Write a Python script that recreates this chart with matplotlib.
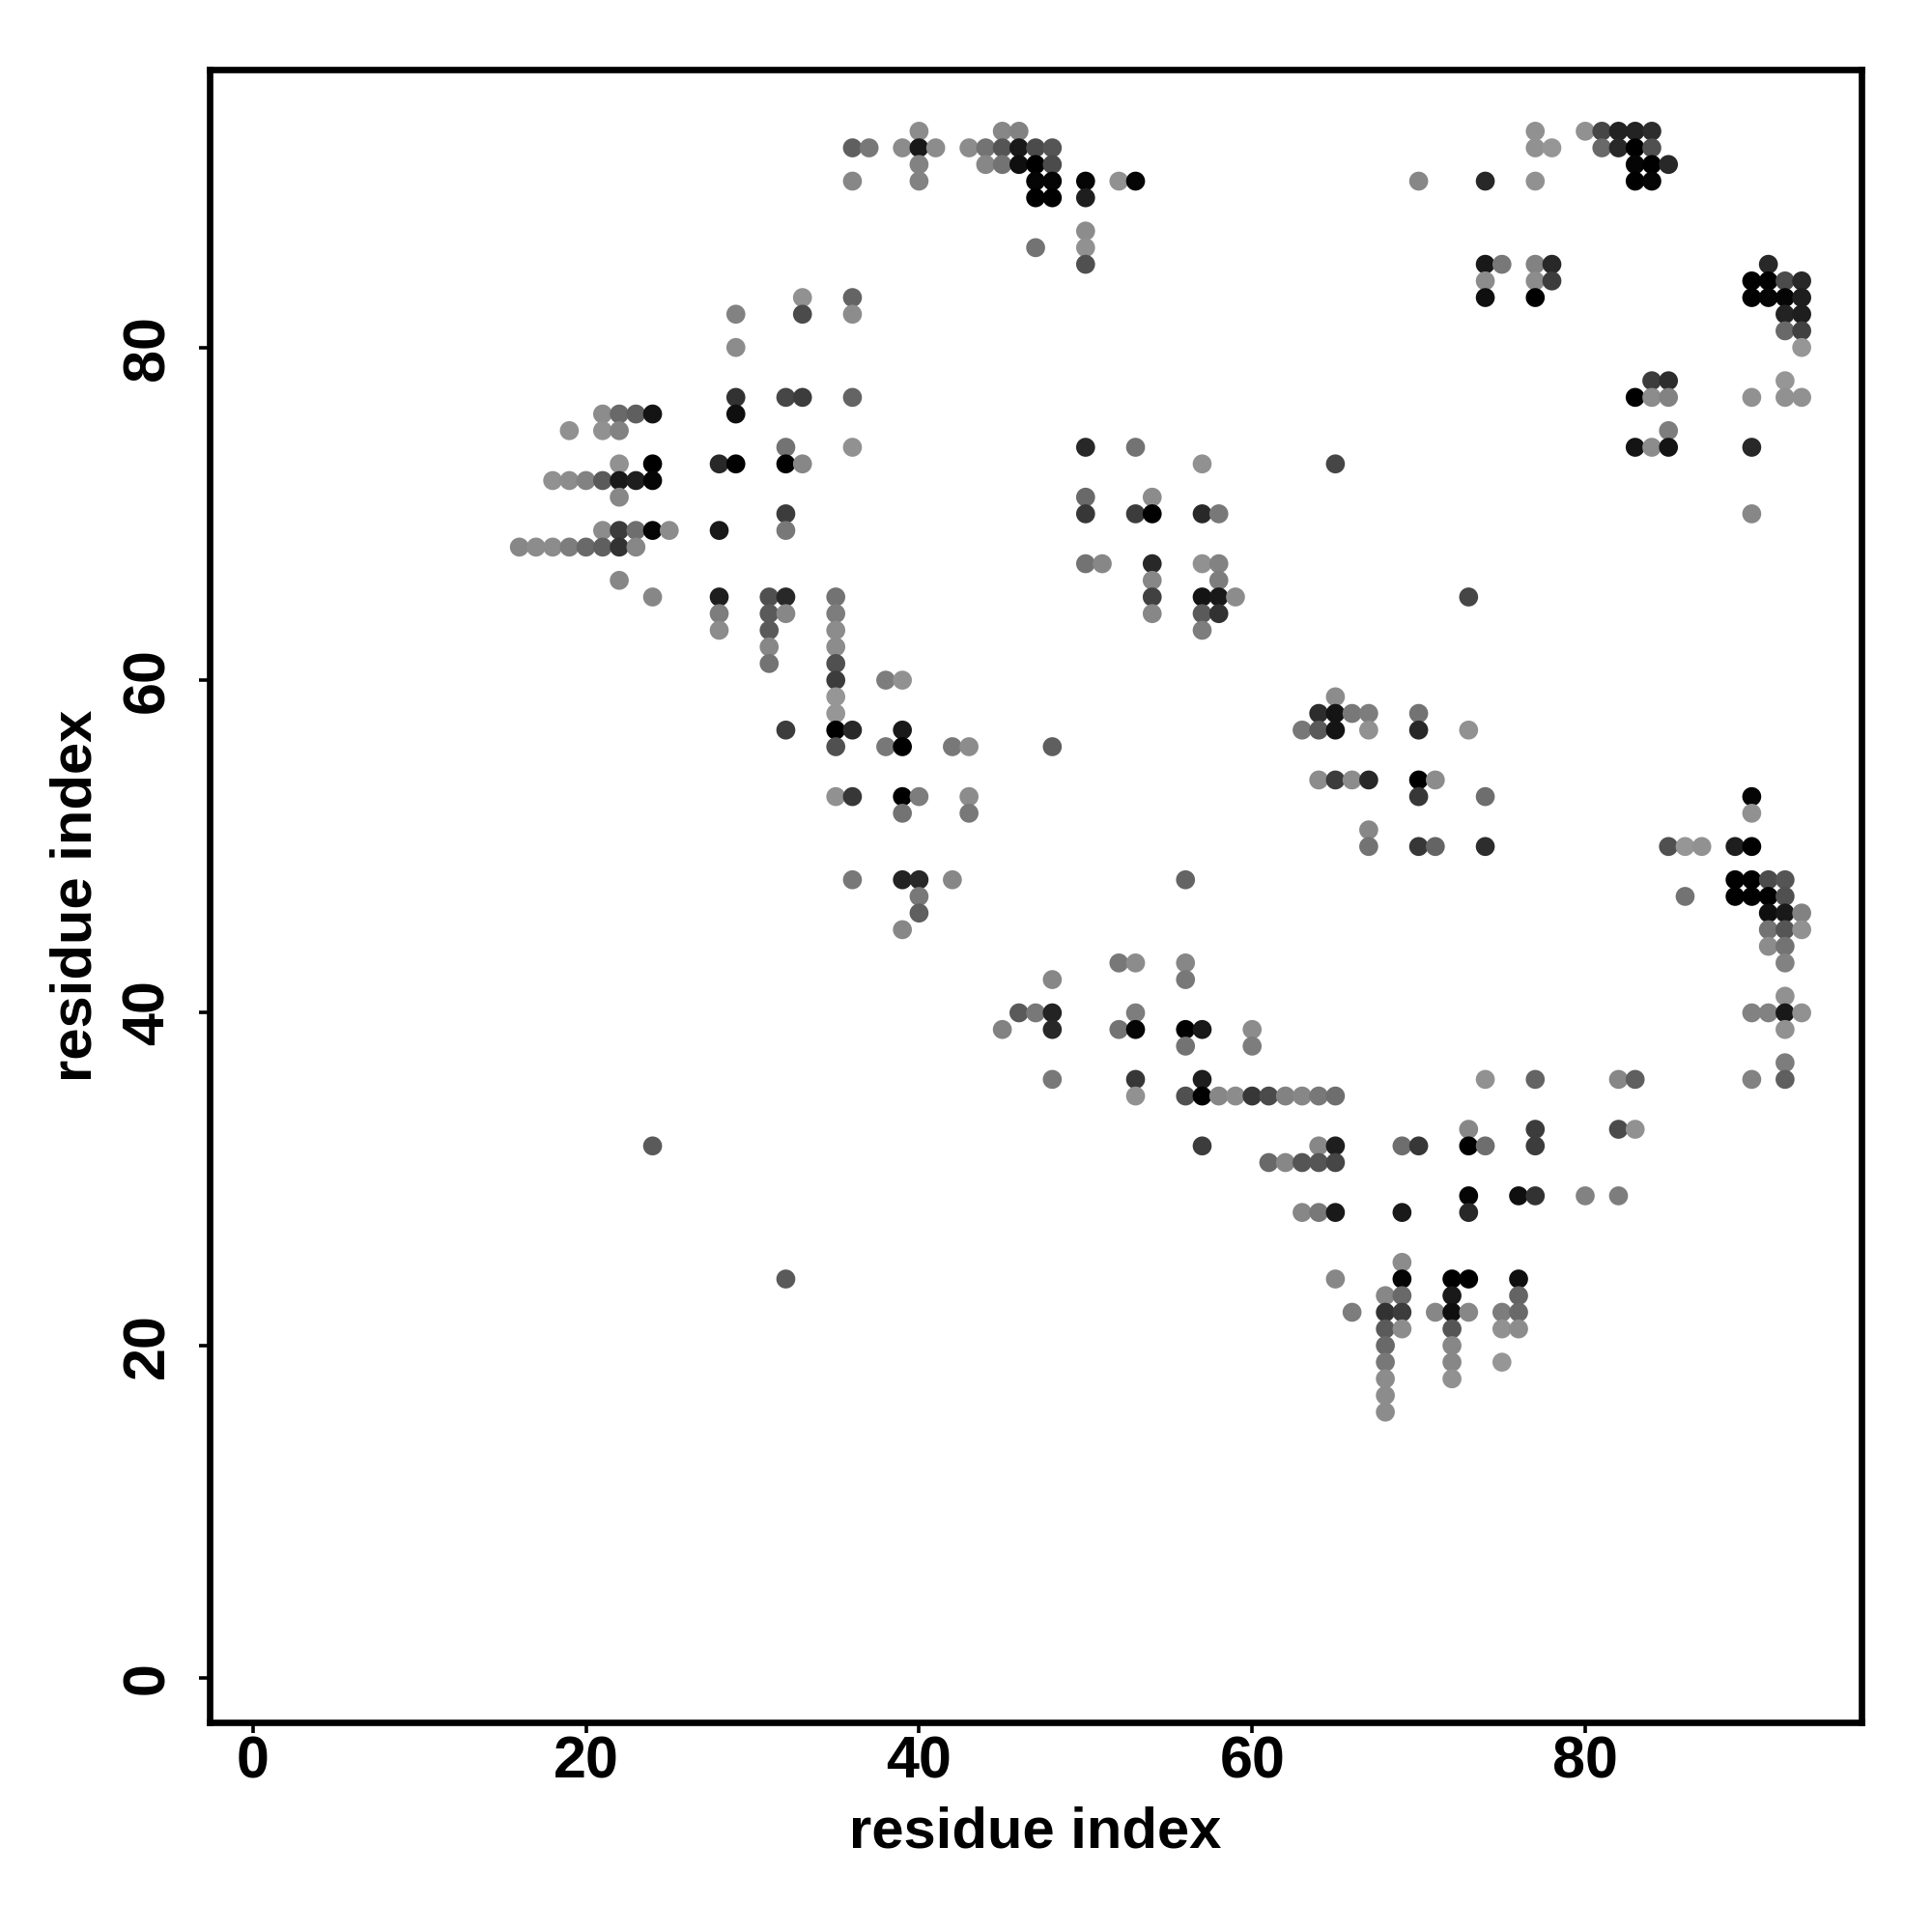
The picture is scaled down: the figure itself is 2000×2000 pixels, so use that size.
import matplotlib
matplotlib.use("Agg")
import matplotlib.pyplot as plt

plt.rcParams['font.family'] = ['Liberation Sans', 'DejaVu Sans']

row_y = [93, 92, 91, 90, 89, 87, 86, 85, 84, 83, 82, 81, 80, 78, 77, 76, 75, 74, 73, 72,
         71, 70, 69, 68, 67, 66, 65, 64, 63, 62, 61, 60, 59, 58, 57, 56, 54, 53, 52, 51,
         50, 48, 47, 46, 45, 44, 43, 42, 41, 40, 39, 38, 37, 36, 35, 33, 32, 31, 29, 28,
         25, 24, 23, 22, 21, 20, 19, 18, 17, 16]

row_x = [
    [40, 45, 46, 77, 80, 81, 82, 83, 84],
    [36, 37, 39, 40, 41, 43, 44, 45, 46, 47, 48, 77, 78, 81, 82, 83, 84],
    [40, 44, 45, 46, 47, 48, 83, 84, 85],
    [36, 40, 47, 48, 50, 52, 53, 70, 74, 77, 83, 84],
    [47, 48, 50],
    [50],
    [47, 50],
    [50, 74, 75, 77, 78, 91],
    [74, 77, 78, 90, 91, 92, 93],
    [33, 36, 74, 77, 90, 91, 92, 93],
    [29, 33, 36, 92, 93],
    [92, 93],
    [29, 93],
    [84, 85, 92],
    [29, 32, 33, 36, 83, 84, 85, 90, 92, 93],
    [21, 22, 23, 24, 29],
    [19, 21, 22, 85],
    [32, 36, 50, 53, 83, 84, 85, 90],
    [22, 24, 28, 29, 32, 33, 57, 65],
    [18, 19, 20, 21, 22, 23, 24],
    [22, 50, 54],
    [32, 50, 53, 54, 57, 58, 90],
    [21, 22, 23, 24, 25, 28, 32],
    [16, 17, 18, 19, 20, 21, 22, 23],
    [50, 51, 54, 57, 58],
    [22, 54, 58],
    [24, 28, 31, 32, 35, 54, 57, 58, 59, 73],
    [28, 31, 32, 35, 54, 57, 58],
    [28, 31, 35, 57],
    [31, 35],
    [31, 35],
    [35, 38, 39],
    [35, 65],
    [35, 64, 65, 66, 67, 70],
    [32, 35, 36, 39, 63, 64, 65, 67, 70, 73],
    [35, 38, 39, 42, 43, 48],
    [64, 65, 66, 67, 70, 71],
    [35, 36, 39, 40, 43, 70, 74, 90],
    [39, 43, 90],
    [67],
    [67, 70, 71, 74, 85, 86, 87, 89, 90],
    [36, 39, 40, 42, 56, 89, 90, 91, 92],
    [40, 86, 89, 90, 91, 92],
    [40, 91, 92, 93],
    [39, 91, 92, 93],
    [91, 92],
    [52, 53, 56, 92],
    [48, 56],
    [92],
    [46, 47, 48, 53, 90, 91, 92, 93],
    [45, 48, 52, 53, 56, 57, 60, 92],
    [56, 60],
    [92],
    [48, 53, 57, 74, 77, 82, 83, 90, 92],
    [53, 56, 57, 58, 59, 60, 61, 62, 63, 64, 65],
    [73, 77, 82, 83],
    [24, 57, 64, 65, 69, 70, 73, 74, 77],
    [61, 62, 63, 64, 65],
    [73, 76, 77, 80, 82],
    [63, 64, 65, 69, 73],
    [69],
    [32, 65, 69, 72, 73, 76],
    [68, 69, 72, 76],
    [66, 68, 69, 71, 72, 73, 75, 76],
    [68, 69, 72, 75, 76],
    [68, 72],
    [68, 72, 75],
    [68, 72],
    [68],
    [68],
]

row_gray = [
    [140, 135, 130, 145, 145, 70, 35, 35, 45],
    [95, 120, 140, 25, 140, 140, 115, 85, 25, 75, 85, 145, 150, 105, 40, 0, 80],
    [130, 135, 115, 15, 0, 75, 5, 0, 40],
    [135, 130, 5, 5, 5, 145, 5, 135, 40, 145, 0, 5],
    [0, 0, 30],
    [140],
    [115, 145],
    [80, 25, 120, 130, 40, 40],
    [140, 140, 60, 0, 0, 75, 40],
    [145, 100, 15, 0, 0, 5, 5, 30],
    [130, 75, 140, 35, 30],
    [105, 65],
    [140, 150],
    [60, 45, 150],
    [50, 70, 60, 100, 0, 140, 130, 145, 145, 145],
    [140, 105, 95, 20, 15],
    [145, 145, 130, 125],
    [115, 145, 40, 115, 20, 140, 20, 40],
    [145, 0, 40, 0, 0, 135, 145, 70],
    [145, 140, 130, 90, 25, 30, 5],
    [135, 105, 140],
    [60, 55, 60, 0, 40, 120, 135],
    [140, 60, 110, 5, 140, 25, 120],
    [135, 140, 140, 125, 105, 95, 50, 135],
    [115, 135, 40, 145, 130],
    [135, 135, 125],
    [135, 30, 80, 40, 115, 65, 20, 25, 140, 70],
    [125, 90, 135, 125, 135, 90, 50],
    [140, 90, 140, 125],
    [135, 140],
    [115, 80],
    [60, 125, 145],
    [150, 140],
    [150, 45, 20, 120, 125, 115],
    [60, 0, 40, 25, 120, 90, 20, 145, 40, 145],
    [80, 120, 0, 120, 140, 95],
    [140, 60, 140, 40, 0, 140],
    [145, 55, 0, 125, 140, 55, 110, 5],
    [115, 120, 145],
    [135],
    [115, 55, 100, 45, 80, 150, 145, 30, 0],
    [120, 35, 40, 135, 100, 0, 0, 75, 85],
    [120, 115, 0, 0, 0, 80],
    [95, 15, 25, 130],
    [135, 115, 85, 145],
    [140, 115],
    [120, 140, 135, 130],
    [135, 120],
    [145],
    [90, 120, 35, 125, 130, 130, 25, 145],
    [130, 40, 115, 5, 0, 25, 140, 145],
    [115, 125],
    [125],
    [120, 55, 30, 145, 100, 135, 95, 130, 95],
    [145, 80, 0, 135, 140, 55, 75, 130, 135, 120, 110],
    [135, 60, 75, 145],
    [90, 60, 135, 30, 110, 55, 0, 110, 60],
    [105, 135, 85, 85, 70],
    [5, 15, 50, 130, 125],
    [135, 120, 25, 25, 40],
    [140],
    [90, 135, 5, 0, 0, 15],
    [135, 105, 25, 100],
    [125, 50, 60, 135, 15, 135, 125, 105],
    [90, 140, 85, 145, 140],
    [105, 135],
    [120, 135, 150],
    [140, 145],
    [140],
    [140],
]

tick_vals = [0, 20, 40, 60, 80]
axis_label = "residue index"

xs, ys, cs = [], [], []
for yy, rx, rg in zip(row_y, row_x, row_gray):
    for xx, g in zip(rx, rg):
        xs.append(xx)
        ys.append(yy)
        cs.append((g / 255, g / 255, g / 255))

fig = plt.figure(figsize=(10, 10), dpi=200)
W = H = 2000
L, R, T, B = 217, 1927, 72, 1783
ax = fig.add_axes([L / W, 1 - B / H, (R - L) / W, (B - T) / H])
x0, ux = 261.8, 17.24
y0, uy = 1737.3, 17.22
ax.set_xlim((L - x0) / ux, (R - x0) / ux)
ax.set_ylim((y0 - B) / uy, (y0 - T) / uy)

ax.scatter(xs, ys, s=50, c=cs, linewidths=0, zorder=3)

for s in ax.spines.values():
    s.set_linewidth(2.4)
ax.set_xticks(tick_vals)
ax.set_yticks(tick_vals)
ax.tick_params(axis='both', length=4, width=1.3, direction='out', labelsize=22)
ax.tick_params(axis='x', pad=1)
ax.tick_params(axis='y', pad=8.4)
for t in ax.get_xticklabels():
    t.set_fontweight('bold')
for t in ax.get_yticklabels():
    t.set_fontweight('bold')
    t.set_rotation(90)
    t.set_va('center')
ax.set_xlabel(axis_label, fontsize=21.5, fontweight='bold', labelpad=5.5)
ax.set_ylabel(axis_label, fontsize=21.5, fontweight='bold', labelpad=6.8)

fig.savefig("out.png", dpi=200, facecolor='white')
